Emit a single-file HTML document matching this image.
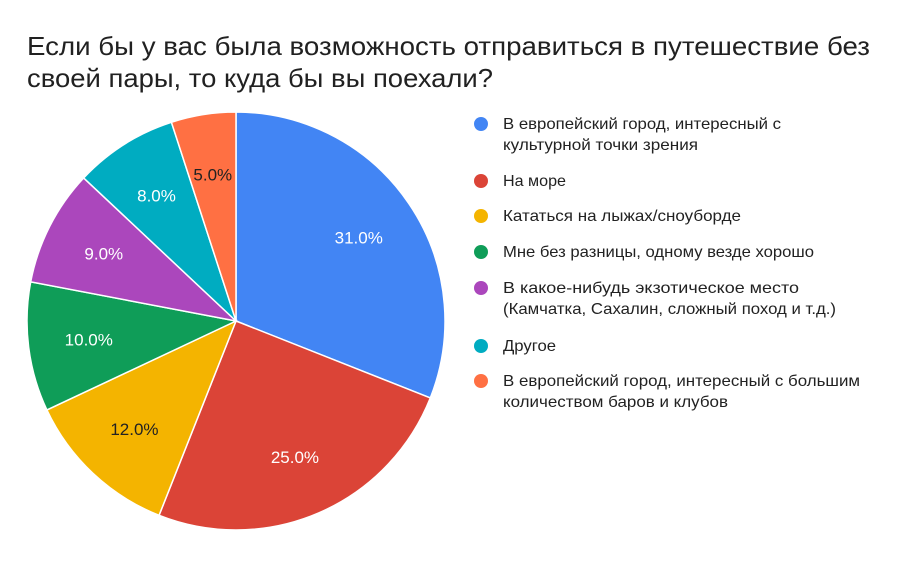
<!DOCTYPE html>
<html><head><meta charset="utf-8"><style>
body{margin:0;background:#fff;width:900px;height:557px;overflow:hidden;font-family:"Liberation Sans",Roboto,sans-serif}
</style></head><body>
<svg id="s" width="900" height="557" xmlns="http://www.w3.org/2000/svg">
<text x="27" y="55" font-size="26" fill="#212121" font-family="Liberation Sans, sans-serif" textLength="843" lengthAdjust="spacingAndGlyphs">Если бы у вас была возможность отправиться в путешествие без</text>
<text x="27" y="87" font-size="26" fill="#212121" font-family="Liberation Sans, sans-serif" textLength="466" lengthAdjust="spacingAndGlyphs">своей пары, то куда бы вы поехали?</text>
<g id="pie"></g>
<g font-size="16" fill="#222" font-family="Liberation Sans, sans-serif" lengthAdjust="spacingAndGlyphs">
<circle cx="481" cy="124" r="7" fill="#4285F4"/><text x="503" y="129" textLength="278" lengthAdjust="spacingAndGlyphs">В европейский город, интересный с</text><text x="503" y="150" textLength="195" lengthAdjust="spacingAndGlyphs">культурной точки зрения</text>
<circle cx="481" cy="181" r="7" fill="#DB4437"/><text x="503" y="186" textLength="63" lengthAdjust="spacingAndGlyphs">На море</text>
<circle cx="481" cy="216" r="7" fill="#F4B400"/><text x="503" y="221" textLength="238" lengthAdjust="spacingAndGlyphs">Кататься на лыжах/сноуборде</text>
<circle cx="481" cy="252" r="7" fill="#0F9D58"/><text x="503" y="257" textLength="311" lengthAdjust="spacingAndGlyphs">Мне без разницы, одному везде хорошо</text>
<circle cx="481" cy="288" r="7" fill="#AB47BC"/><text x="503" y="293" textLength="296" lengthAdjust="spacingAndGlyphs">В какое-нибудь экзотическое место</text><text x="503" y="314" textLength="333" lengthAdjust="spacingAndGlyphs">(Камчатка, Сахалин, сложный поход и т.д.)</text>
<circle cx="481" cy="346" r="7" fill="#00ACC1"/><text x="503" y="351" textLength="53" lengthAdjust="spacingAndGlyphs">Другое</text>
<circle cx="481" cy="381" r="7" fill="#FF7043"/><text x="503" y="386" textLength="357" lengthAdjust="spacingAndGlyphs">В европейский город, интересный с большим</text><text x="503" y="407" textLength="225" lengthAdjust="spacingAndGlyphs">количеством баров и клубов</text>
</g>
</svg>
<script>
var d=[[31,"#4285F4","#fff"],[25,"#DB4437","#fff"],[12,"#F4B400","#222"],[10,"#0F9D58","#fff"],[9,"#AB47BC","#fff"],[8,"#00ACC1","#fff"],[5,"#FF7043","#222"]];
var cx=236,cy=321,R=209,a=0,h="";
function p(t,r){var ang=t/100*2*Math.PI;return [cx+r*Math.sin(ang),cy-r*Math.cos(ang)];}
d.forEach(function(s){var b=a+s[0],p1=p(a,R),p2=p(b,R),lg=s[0]>50?1:0;
h+='<path d="M'+cx+','+cy+'L'+p1[0]+','+p1[1]+'A'+R+','+R+' 0 '+lg+' 1 '+p2[0]+','+p2[1]+'Z" fill="'+s[1]+'" stroke="#fff" stroke-width="1.5"/>';
a=b;});
a=0;d.forEach(function(s){var m=p(a+s[0]/2,R*0.71);h+='<text x="'+m[0]+'" y="'+(m[1]+6)+'" text-anchor="middle" font-size="17" fill="'+s[2]+'" font-family="Liberation Sans, sans-serif">'+s[0]+'.0%</text>';a+=s[0];});
document.getElementById("pie").innerHTML=h;
</script>
</body></html>
